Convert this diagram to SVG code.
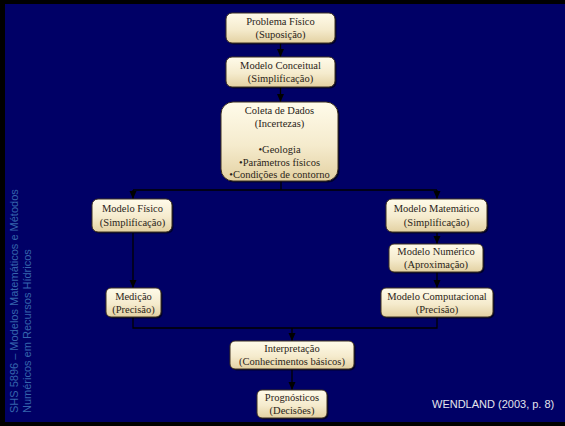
<svg xmlns="http://www.w3.org/2000/svg" width="565" height="426" viewBox="0 0 565 426">
<defs>
<linearGradient id="g" x1="0" y1="0" x2="0" y2="1">
<stop offset="0" stop-color="#fffbea"/>
<stop offset="0.55" stop-color="#f5ebcd"/>
<stop offset="1" stop-color="#e3d1a2"/>
</linearGradient>
<marker id="ah" markerUnits="userSpaceOnUse" markerWidth="8" markerHeight="8" viewBox="0 0 8 8" refX="8" refY="4" orient="auto">
<path d="M0,0.5 L8,4 L0,7.5 Z" fill="#000"/>
</marker>
<style>
.box{fill:url(#g);stroke:#3d3020;stroke-width:1}
.sh{fill:#000;opacity:0.55}
.t{font-family:"Liberation Serif","Times New Roman",serif;font-size:10.5px;fill:#2a2418;text-anchor:middle}
.c{fill:none;stroke:#000;stroke-width:1.3}
.ca{fill:none;stroke:#000;stroke-width:1.3;marker-end:url(#ah)}
.side{font-family:"Liberation Sans",Arial,sans-serif;font-size:11px;fill:#3565ad}
</style>
</defs>
<rect x="0" y="0" width="565" height="426" fill="#000"/>
<rect x="5" y="4" width="560" height="418" fill="#000066"/>

<g id="sidebar">
<text class="side" transform="translate(18,413) rotate(-90)">SHS 5896 – Modelos Matemáticos e Métodos</text>
<text class="side" transform="translate(31,413) rotate(-90)">Numéricos em Recursos Hídricos</text>
</g>

<g id="connectors">
<line class="ca" x1="280.5" y1="43" x2="280.5" y2="57"/>
<line class="ca" x1="280.5" y1="87" x2="280.5" y2="102"/>
<polyline class="c" points="281,181 281,190"/>
<polyline class="c" points="133,190 437,190"/>
<line class="ca" x1="133" y1="190" x2="133" y2="199"/>
<line class="ca" x1="437" y1="190" x2="437" y2="199"/>
<line class="ca" x1="133" y1="233" x2="133" y2="288"/>
<line class="ca" x1="437" y1="233" x2="437" y2="244"/>
<line class="ca" x1="437" y1="272" x2="437" y2="288"/>
<polyline class="c" points="133,317 133,328 437,328 437,317"/>
<line class="ca" x1="292" y1="328" x2="292" y2="341"/>
<line class="ca" x1="292" y1="369" x2="292" y2="390"/>
</g>

<g id="problema">
<rect class="sh" x="227.5" y="14.5" width="109" height="30" rx="6"/>
<rect class="box" x="226" y="13" width="109" height="30" rx="6"/>
<text class="t" x="280.5" y="25">Problema Físico</text>
<text class="t" x="280.5" y="38">(Suposição)</text>
</g>

<g id="conceitual">
<rect class="sh" x="227.5" y="58.5" width="109" height="30" rx="6"/>
<rect class="box" x="226" y="57" width="109" height="30" rx="6"/>
<text class="t" x="280.5" y="69">Modelo Conceitual</text>
<text class="t" x="280.5" y="82">(Simplificação)</text>
</g>

<g id="coleta">
<rect class="sh" x="222.5" y="103.5" width="117" height="79" rx="12"/>
<rect class="box" x="221" y="102" width="117" height="79" rx="12"/>
<text class="t" x="279.5" y="114">Coleta de Dados</text>
<text class="t" x="279.5" y="127">(Incertezas)</text>
<text class="t" x="279.5" y="153">•Geologia</text>
<text class="t" x="279.5" y="166">•Parâmetros físicos</text>
<text class="t" x="279.5" y="178">•Condições de contorno</text>
</g>

<g id="fisico">
<rect class="sh" x="93.5" y="200.5" width="80" height="33" rx="6"/>
<rect class="box" x="92" y="199" width="80" height="33" rx="6"/>
<text class="t" x="132.5" y="212">Modelo Físico</text>
<text class="t" x="132.5" y="226">(Simplificação)</text>
</g>

<g id="matematico">
<rect class="sh" x="387.5" y="200.5" width="101" height="33" rx="6"/>
<rect class="box" x="386" y="199" width="101" height="33" rx="6"/>
<text class="t" x="436.5" y="212">Modelo Matemático</text>
<text class="t" x="436.5" y="226">(Simplificação)</text>
</g>

<g id="numerico">
<rect class="sh" x="390.5" y="245.5" width="94" height="28" rx="5"/>
<rect class="box" x="389" y="244" width="94" height="28" rx="5"/>
<text class="t" x="436" y="255">Modelo Numérico</text>
<text class="t" x="436" y="268">(Aproximação)</text>
</g>

<g id="medicao">
<rect class="sh" x="107.5" y="289.5" width="55" height="29" rx="5"/>
<rect class="box" x="106" y="288" width="55" height="29" rx="5"/>
<text class="t" x="133.5" y="300">Medição</text>
<text class="t" x="133.5" y="313">(Precisão)</text>
</g>

<g id="computacional">
<rect class="sh" x="382.5" y="289.5" width="112" height="29" rx="5"/>
<rect class="box" x="381" y="288" width="112" height="29" rx="5"/>
<text class="t" x="437" y="300">Modelo Computacional</text>
<text class="t" x="437" y="313">(Precisão)</text>
</g>

<g id="interpretacao">
<rect class="sh" x="231.5" y="342.5" width="124" height="28" rx="5"/>
<rect class="box" x="230" y="341" width="124" height="28" rx="5"/>
<text class="t" x="292" y="352">Interpretação</text>
<text class="t" x="292" y="365">(Conhecimentos básicos)</text>
</g>

<g id="prognosticos">
<rect class="sh" x="258.5" y="391.5" width="70" height="28" rx="5"/>
<rect class="box" x="257" y="390" width="70" height="28" rx="5"/>
<text class="t" x="292" y="401">Prognósticos</text>
<text class="t" x="292" y="414">(Decisões)</text>
</g>

<text x="432" y="408" font-family="'Liberation Sans',Arial,sans-serif" font-size="11px" fill="#e4e4ec">WENDLAND (2003, p. 8)</text>
</svg>
